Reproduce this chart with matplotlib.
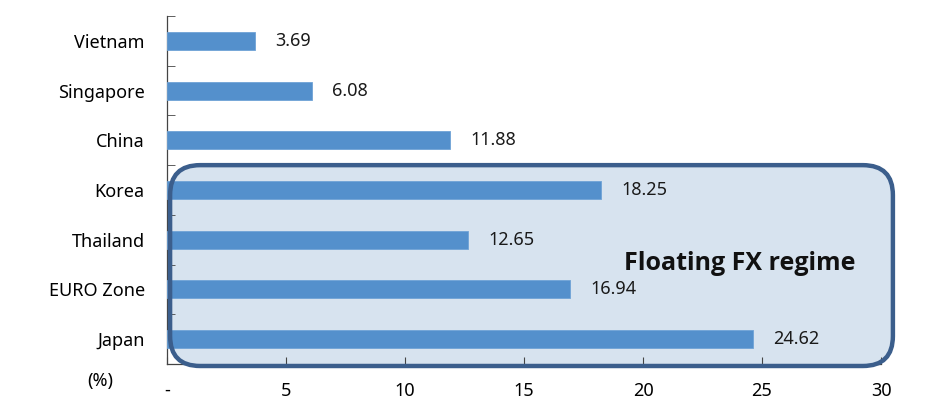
import matplotlib
matplotlib.use("Agg")
import matplotlib.pyplot as plt
from matplotlib.patches import FancyBboxPatch
import numpy as np

plt.rcParams['font.family'] = ['Noto Sans', 'DejaVu Sans']

categories = ["Vietnam", "Singapore", "China", "Korea", "Thailand", "EURO Zone", "Japan"]
values = [3.69, 6.08, 11.88, 18.25, 12.65, 16.94, 24.62]
xticks = [0, 5, 10, 15, 20, 25, 30]
xticklabels = ["-", "5", "10", "15", "20", "25", "30"]
annotation = "Floating FX regime"
unit_label = "(%)"

W, H = 936, 403
fig = plt.figure(figsize=(W / 100, H / 100), dpi=100)
ax = fig.add_axes([167 / W, 39 / H, (881 - 167) / W, (364 - 16) / H])

n = len(categories)
pos = np.arange(n)[::-1]
ax.set_xlim(0, 30)
ax.set_ylim(-0.5, n - 0.5)

# rounded floating-regime box (display coords): fill behind bars, border above
fig.canvas.draw()
x0, y0 = ax.transData.transform((0.13, -0.54))
x1, y1 = ax.transData.transform((30.5, 3.5))
fill = FancyBboxPatch((x0, y0), x1 - x0, y1 - y0,
                      boxstyle="round,pad=0,rounding_size=30",
                      transform=None, facecolor="#D7E3EF", edgecolor="none",
                      zorder=1, clip_on=False)
ax.add_artist(fill)
edge = FancyBboxPatch((x0, y0), x1 - x0, y1 - y0,
                      boxstyle="round,pad=0,rounding_size=30",
                      transform=None, facecolor="none", edgecolor="#3B5E8C",
                      linewidth=3.2, zorder=3.5, clip_on=False)
ax.add_artist(edge)

ax.barh(pos, values, height=0.36, color="#5490CC", edgecolor="#6FA3D6",
        linewidth=0.6, zorder=3)
for p, v in zip(pos, values):
    ax.text(v + 0.85, p, f"{v:.2f}", va="center", ha="left", fontsize=13,
            color="#1a1a1a", zorder=4)

ax.set_yticks(pos)
ax.set_yticklabels(categories, fontsize=13)
ax.tick_params(axis="y", which="major", length=0, pad=16)
ax.set_yticks(np.arange(-0.5, n, 1.0), minor=True)
ax.tick_params(axis="y", which="minor", length=6, direction="in", color="#444444")

ax.set_xticks(xticks)
ax.set_xticklabels(xticklabels, fontsize=13)
ax.tick_params(axis="x", length=5, direction="in", pad=13, color="#444444")

for s in ["top", "right"]:
    ax.spines[s].set_visible(False)
for s in ["left", "bottom"]:
    ax.spines[s].set_color("#444444")
    ax.spines[s].set_linewidth(0.9)
    ax.spines[s].set_zorder(0.5)
ax.patch.set_alpha(0)

fig.text(740 / W, 1 - 263 / H, annotation, fontsize=18, fontweight="bold",
         family=["Open Sans", "DejaVu Sans"],
         ha="center", va="center", color="#111111", zorder=5)
fig.text(100 / W, 1 - 381 / H, unit_label, fontsize=13, ha="center", va="center")

fig.savefig("out.png", dpi=100)
